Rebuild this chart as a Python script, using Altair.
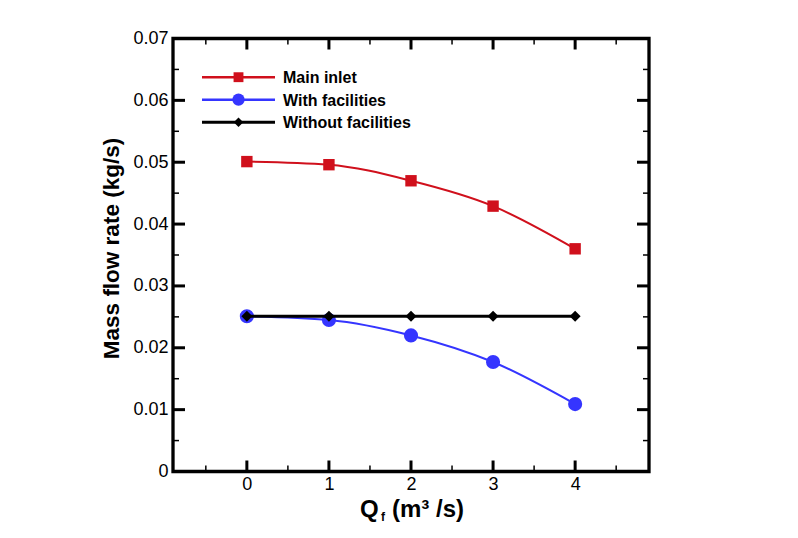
import altair as alt
import pandas as pd

# ---- data ----
qf = [0, 1, 2, 3, 4]
main_inlet = [0.0501, 0.0496, 0.0470, 0.0429, 0.0360]
with_fac = [0.0251, 0.0245, 0.0220, 0.0177, 0.0109]
without_fac = [0.0251, 0.0251, 0.0251, 0.0251, 0.0251]
series_names = ["Main inlet", "With facilities", "Without facilities"]
series_colors = ["#D0101C", "#3535FF", "#000000"]
series_shapes = ["square", "circle", "diamond"]
series_sizes = [130, 200, 121]
series_widths = [2, 2, 3]

x_major = [0, 1, 2, 3, 4]
x_minor = [-0.5, 0.5, 1.5, 2.5, 3.5, 4.5]
y_major = [0, 0.01, 0.02, 0.03, 0.04, 0.05, 0.06, 0.07]
y_minor = [0.005, 0.015, 0.025, 0.035, 0.045, 0.055, 0.065]

W, H = 476, 433
FONT = "Liberation Sans"

rows = []
for name, vals in zip(series_names, [main_inlet, with_fac, without_fac]):
    for q, v in zip(qf, vals):
        rows.append({"v": q, "m": v, "series": name})
df = pd.DataFrame(rows)

xscale = alt.Scale(domain=[-0.9, 4.9], nice=False, zero=False)
yscale = alt.Scale(domain=[0, 0.07], nice=False, zero=False)

xaxis = alt.Axis(values=x_major, ticks=False, domain=False, grid=False, title=None,
                 labelFont=FONT, labelFontSize=18, labelColor="black", labelPadding=4,
                 format="d")
yaxis = alt.Axis(values=y_major, ticks=False, domain=False, grid=False, title=None,
                 labelFont=FONT, labelFontSize=18, labelColor="black", labelPadding=5,
                 labelExpr="datum.value == 0 ? '0' : format(datum.value, '.2f')")

def X(field):
    return alt.X(field, scale=xscale, axis=xaxis)

def Y(field):
    return alt.Y(field, scale=yscale, axis=yaxis)

layers = []

# inward ticks on all four sides
def xticks(vals, length, width):
    d = pd.DataFrame({"v": vals})
    base = alt.Chart(d).mark_rule(color="black", strokeWidth=width)
    bottom = base.encode(x=X("v:Q"), y=alt.value(H), y2=alt.value(H - length))
    top = base.encode(x=X("v:Q"), y=alt.value(0), y2=alt.value(length))
    return [bottom, top]

def yticks(vals, length, width):
    d = pd.DataFrame({"m": vals})
    base = alt.Chart(d).mark_rule(color="black", strokeWidth=width)
    left = base.encode(y=Y("m:Q"), x=alt.value(0), x2=alt.value(length))
    right = base.encode(y=Y("m:Q"), x=alt.value(W), x2=alt.value(W - length))
    return [left, right]

layers += xticks(x_major, 11, 3) + xticks(x_minor, 6, 1.5)
layers += yticks(y_major, 12, 3) + yticks(y_minor, 6, 1.5)

# data lines and markers
for name, col, shp, sz, lw in zip(series_names, series_colors, series_shapes, series_sizes, series_widths):
    sub = df[df["series"] == name]
    line = alt.Chart(sub).mark_line(color=col, strokeWidth=lw, interpolate="monotone").encode(
        x=X("v:Q"), y=Y("m:Q"))
    pts = alt.Chart(sub).mark_point(shape=shp, size=sz, filled=True, color=col, opacity=1).encode(
        x=X("v:Q"), y=Y("m:Q"))
    layers += [line, pts]

# custom legend inside the plot
for i, (name, col, shp, sz, lw) in enumerate(zip(series_names, series_colors, series_shapes, series_sizes, series_widths)):
    yy = 38.7 + i * 22.5
    one = pd.DataFrame({"series": [name]})
    layers.append(alt.Chart(one).mark_rule(color=col, strokeWidth=max(lw, 2.5)).encode(
        x=alt.value(29), x2=alt.value(102), y=alt.value(yy)))
    layers.append(alt.Chart(one).mark_point(shape=shp, size=sz * 0.75, filled=True, color=col, opacity=1).encode(
        x=alt.value(65.5), y=alt.value(yy)))
    layers.append(alt.Chart(one).mark_text(align="left", baseline="middle", font=FONT, fontSize=16,
                                           fontWeight="bold", color="black").encode(
        x=alt.value(110), y=alt.value(yy + 1), text="series:N"))

# axis titles as text
def label(txt, x, y, size, angle=0, align="left", baseline="alphabetic"):
    d = pd.DataFrame({"t": [txt]})
    return alt.Chart(d).mark_text(align=align, baseline=baseline, font=FONT, fontSize=size,
                                  fontWeight="bold", color="black", angle=angle).encode(
        x=alt.value(x), y=alt.value(y), text="t:N")

layers.append(label("Mass flow rate (kg/s)", -61, 210, 22.5, angle=270, align="center", baseline="middle"))
layers.append(label("Q", 187, 478, 24))
layers.append(label("f", 208, 482, 12))
layers.append(label("(m³ /s)", 219, 478, 24))

chart = alt.layer(*layers).properties(
    width=W, height=H,
    autosize=alt.AutoSizeParams(type="none"),
    padding={"left": 165, "top": 30.5, "right": 140, "bottom": 60},
).configure(background="white").configure_view(stroke="black", strokeWidth=3.3)

chart.save("out.html", embed_options={"renderer": "svg", "actions": False})
